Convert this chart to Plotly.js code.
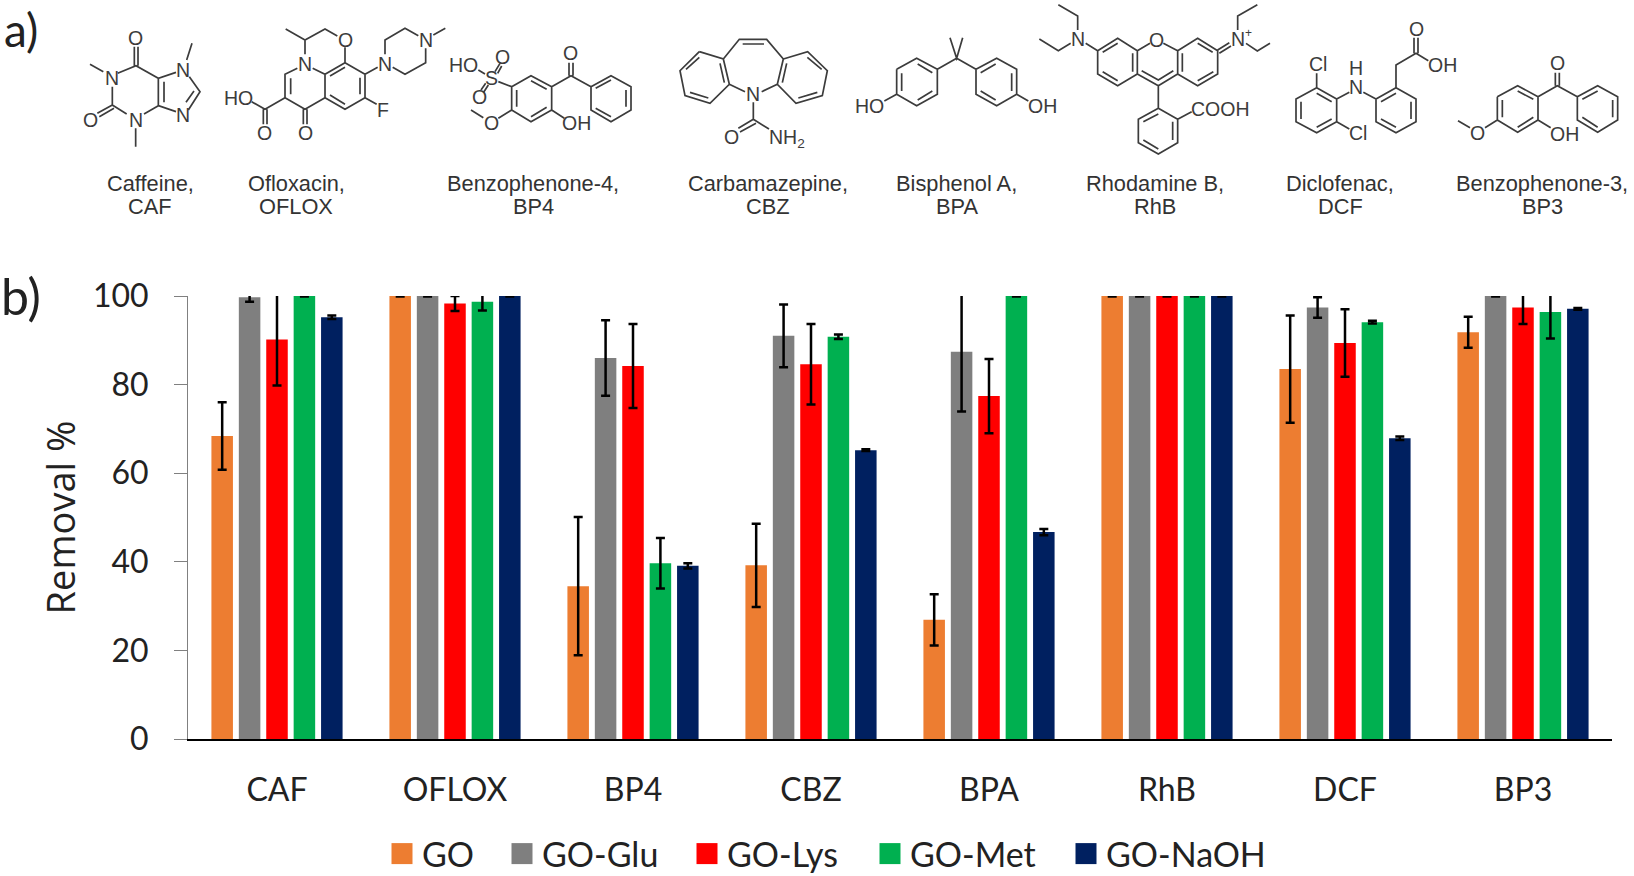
<!DOCTYPE html>
<html><head><meta charset="utf-8">
<script src="https://cdn.plot.ly/plotly-3.0.1.min.js"></script>
<style>html,body{margin:0;padding:0;background:#fff}#c{width:1634px;height:876px}</style>
</head><body><div id="c"></div>
<script>
// ---------- chart data ----------
const categories = ['CAF','OFLOX','BP4','CBZ','BPA','RhB','DCF','BP3'];
const seriesNames = ['GO','GO-Glu','GO-Lys','GO-Met','GO-NaOH'];
const seriesColors = ['#ED7D31','#7F7F7F','#FF0000','#00B050','#002060'];
const goValues   = [68.4,100,34.5,39.2,26.9,100,83.5,91.8];
const gluValues  = [99.7,100,86,91,87.4,100,97.4,100];
const lysValues  = [90.2,98.3,84.2,84.6,77.4,100,89.4,97.4];
const metValues  = [100,98.7,39.7,90.8,100,100,94.1,96.4];
const naohValues = [95.2,100,39.1,65.2,46.7,100,67.9,97.1];
const goErrors   = [7.6,0.1,15.6,9.4,5.8,0.1,12.1,3.5];
const gluErrors  = [1,0.1,8.5,7.1,13.5,0.1,2.3,0.1];
const lysErrors  = [10.4,1.7,9.5,9.1,8.4,0.1,7.6,3.7];
const metErrors  = [0.1,2,5.7,0.5,0.1,0.1,0.3,6];
const naohErrors = [0.4,0.1,0.6,0.2,0.7,0.1,0.4,0.2];
const yTicks = [0,20,40,60,80,100];
const compoundLabels = [
 ['Caffeine,','CAF',150],['Ofloxacin,','OFLOX',296],['Benzophenone-4,','BP4',533],
 ['Carbamazepine,','CBZ',768],['Bisphenol A,','BPA',957],['Rhodamine B,','RhB',1155],
 ['Diclofenac,','DCF',1340],['Benzophenone-3,','BP3',1542]];

// ---------- structural formulas: origin, bonds (polylines), atom labels; units are third-pixels ----------
const caffeine = {o:[70,15],b:[
 [[60,148],[100,170]],[[143,175],[198,152],[265,190],[318,172]],[[193,152],[193,95]],[[204,152],[204,95]],
 [[350,135],[366,85]],[[358,185],[390,230],[355,285]],[[372,228],[348,262]],[[318,290],[265,272],[265,190]],
 [[282,200],[282,262]],[[265,272],[222,297]],[[197,340],[197,395]],[[170,297],[127,270],[127,215]],
 [[127,270],[82,295]],[[132,280],[88,305]]],
 a:[['O',195,68],['N',125,190],['N',340,165],['N',340,300],['N',197,315],['O',60,315]]};
const ofloxacin = {o:[220,15],b:[
 [[197,42],[255,75],[315,42],[352,63]],[[375,97],[375,143]],[[255,75],[255,118]],
 [[232,160],[195,178],[195,248],[255,283],[315,248]],[[212,190],[212,238]],
 [[250,283],[250,328]],[[261,283],[261,328]],[[195,248],[135,283],[95,260]],[[130,283],[130,328]],[[141,283],[141,328]],
 [[278,160],[315,178],[375,143],[435,178],[435,248],[375,283],[315,248],[315,178]],
 [[330,183],[375,157]],[[420,188],[420,238]],[[375,268],[330,240]],
 [[435,178],[473,157]],[[435,248],[470,268]],
 [[495,118],[495,75],[555,40],[595,62]],[[617,100],[617,143],[555,178],[518,157]],[[640,60],[676,40]]],
 a:[['N',255,148],['O',375,75],['N',495,148],['N',617,75],['F',490,285],['HO',55,250],['O',133,355],['O',255,355]]};
const benzophenone4 = {o:[445,30],b:[
 [[200,170],[258,137],[320,170],[320,240],[258,275],[200,240],[200,170]],
 [[215,180],[215,230]],[[258,152],[305,178]],[[305,232],[258,260]],
 [[160,155],[200,170]],[[100,120],[120,132]],[[150,125],[165,100]],[[158,130],[170,108]],
 [[122,160],[108,180]],[[130,165],[115,188]],[[200,240],[160,265]],[[115,263],[78,240]],[[320,240],[358,265]],
 [[320,170],[378,137],[438,170]],[[372,137],[372,98]],[[384,137],[384,98]],
 [[438,170],[498,137],[558,170],[558,240],[498,275],[438,240],[438,170]],
 [[452,175],[498,150]],[[543,180],[543,230]],[[498,260],[452,235]]],
 a:[['HO',55,105],['S',140,145],['O',172,80],['O',102,200],['O',138,278],['OH',395,278],['O',377,70]]};
const carbamazepine = {o:[670,30],b:[
 [[88,65],[160,87],[178,163],[120,220],[45,197],[30,122],[88,65]],
 [[48,118],[88,82]],[[150,100],[163,158]],[[60,187],[115,204]],
 [[160,87],[208,28],[290,28],[340,87]],[[218,42],[282,42]],
 [[340,87],[413,65],[472,122],[457,197],[378,220],[322,163],[340,87]],
 [[412,82],[455,118]],[[350,100],[337,158]],[[442,187],[385,204]],
 [[178,163],[225,185]],[[322,163],[275,185]],[[250,217],[250,268],[205,295]],[[258,280],[210,306]],[[250,268],[297,297]]],
 a:[['N',250,192],['O',183,322],['NH<sub>2</sub>',350,325]]};
const bisphenolA = {o:[850,25],b:[
 [[140,133],[200,100],[262,133],[262,208],[200,242],[140,208],[140,133]],
 [[155,145],[155,198]],[[203,117],[247,143]],[[247,198],[203,225]],
 [[262,133],[320,100],[378,133]],[[300,38],[320,100],[338,38]],
 [[378,133],[440,100],[500,133],[500,208],[440,242],[378,208],[378,133]],
 [[392,143],[437,117]],[[485,145],[485,198]],[[392,198],[437,225]],
 [[140,208],[103,228]],[[500,208],[535,228]]],
 a:[['HO',58,243],['OH',578,243]]};
const rhodamineB = {o:[1030,0],b:[
 [[85,14],[143,48],[143,90]],[[28,117],[85,152],[122,130]],[[167,130],[203,152]],
 [[203,152],[263,115],[322,152],[322,222],[263,257],[203,222],[203,152]],
 [[308,160],[308,215]],[[263,130],[218,157]],[[218,215],[263,242]],
 [[322,152],[360,130]],[[400,130],[443,152]],[[322,222],[385,257],[443,222]],[[335,212],[385,240],[430,212]],
 [[443,152],[503,115],[563,152],[563,222],[503,257],[443,222],[443,152]],
 [[457,160],[457,215]],[[503,130],[548,157]],[[503,242],[550,215]],
 [[563,150],[598,128]],[[568,160],[603,138]],
 [[623,90],[623,48],[682,14]],[[648,130],[682,153],[720,130]],[[385,257],[385,325]],
 [[385,325],[443,358],[443,428],[385,462],[325,428],[325,358],[385,325]],
 [[385,342],[340,365]],[[428,365],[428,420]],[[340,420],[385,447]],[[443,358],[485,335]]],
 a:[['N',145,118],['N',625,118],['+',655,100],['O',380,120],['COOH',572,328]]};
const diclofenac = {o:[1280,15],b:[
 [[110,218],[170,252],[170,320],[110,353],[48,320],[48,252],[110,218]],
 [[110,235],[155,260]],[[155,312],[110,337]],[[63,260],[63,312]],
 [[110,218],[110,175]],[[170,320],[208,342]],[[170,252],[208,232]],[[250,232],[288,252]],
 [[288,252],[348,218],[408,252],[408,320],[348,353],[288,320],[288,252]],
 [[303,260],[348,235]],[[393,260],[393,312]],[[303,312],[348,337]],
 [[348,218],[348,150],[408,115],[445,137]],[[402,115],[402,68]],[[414,115],[414,68]]],
 a:[['Cl',115,148],['H',228,160],['N',228,215],['Cl',235,355],['OH',488,150],['O',408,42]]};
const benzophenone3 = {o:[1450,40],b:[
 [[142,170],[203,137],[264,170],[264,240],[203,277],[142,240],[142,170]],
 [[157,180],[157,232]],[[203,153],[250,178]],[[250,232],[203,262]],
 [[264,170],[322,137],[382,170]],[[316,137],[316,98]],[[328,137],[328,98]],
 [[382,170],[443,137],[503,170],[503,240],[443,277],[382,240],[382,170]],
 [[397,178],[443,153]],[[488,180],[488,232]],[[397,232],[443,262]],
 [[142,240],[105,263]],[[60,263],[24,242]],[[264,240],[302,263]]],
 a:[['O',322,70],['OH',342,282],['O',82,280]]};
const molecules = [caffeine,ofloxacin,benzophenone4,carbamazepine,bisphenolA,rhodamineB,diclofenac,benzophenone3];

// ---------- page geometry ----------
const W=1634,H=876,L=188,R=1612,T=296,B=739;
const fx=x=>(x-L)/(R-L), fy=y=>(B-y)/(B-T);
const shapes=[],annotations=[];
const ink='#3c3c3c';
const pageText=(text,x,y,family,size,color)=>annotations.push({xref:'paper',yref:'paper',x:fx(x),y:fy(y),text,showarrow:false,
  xanchor:'center',yanchor:'middle',borderpad:0,font:{family,size,color}});
molecules.forEach(m=>{
  const d=m.b.map(line=>line.map((p,i)=>(i?'L':'M')+fx(m.o[0]+p[0]/3).toFixed(5)+','+fy(m.o[1]+p[1]/3).toFixed(5)).join(' ')).join(' ');
  shapes.push({type:'path',xref:'paper',yref:'paper',path:d,line:{color:ink,width:1.7},layer:'above'});
  m.a.forEach(a=>pageText(a[0],m.o[0]+a[1]/3,m.o[1]+a[2]/3,'Liberation Sans',a[0]==='+'?12:19.5,ink));
});
compoundLabels.forEach(c=>{
  pageText(c[0],c[2],183.5,'Liberation Sans',21.8,'#333');
  pageText(c[1],c[2],206.5,'Liberation Sans',21.8,'#333');
});
pageText('a)',21,29,'Lato',46,'#222');
pageText('b)',21,296,'Lato',50,'#222');

// ---------- bars ----------
const vals=[goValues,gluValues,lysValues,metValues,naohValues];
const errs=[goErrors,gluErrors,lysErrors,metErrors,naohErrors];
const traces=seriesNames.map((n,i)=>({type:'bar',name:n,x:categories,y:vals[i],marker:{color:seriesColors[i]},
  error_y:{type:'data',array:errs[i],visible:true,color:'#000',thickness:2.5,width:4.5}}));

const layout={width:W,height:H,margin:{l:L,r:W-R,t:T,b:H-B,pad:0,autoexpand:false},paper_bgcolor:'#fff',plot_bgcolor:'#fff',
  barmode:'group',bargap:0.23,bargroupgap:0.215,shapes,annotations,
  font:{family:'Lato',color:'#222'},
  xaxis:{type:'category',range:[-0.5,7.5],showgrid:false,zeroline:false,showline:true,linecolor:'#000',linewidth:2,
    ticks:'',ticklabelstandoff:22,tickfont:{family:'Lato',size:32,color:'#222'},automargin:false},
  yaxis:{range:[0,100],tickvals:yTicks,showgrid:false,zeroline:false,showline:true,linecolor:'#808080',linewidth:1,
    ticks:'outside',ticklen:13,tickcolor:'#808080',tickwidth:1,ticklabelstandoff:19,
    tickfont:{family:'Lato',size:32,color:'#222'},automargin:false,
    title:{text:'Removal %',standoff:5,font:{family:'Open Sans',size:38,color:'#222'}}},
  legend:{orientation:'h',x:fx(382),xanchor:'left',y:fy(854),yanchor:'middle',entrywidth:190,entrywidthmode:'pixels',
    font:{family:'Lato',size:34,color:'#222'},itemclick:false,itemdoubleclick:false,bgcolor:'rgba(0,0,0,0)',traceorder:'normal'}
};
const legendStarts=[0,120,305,488,684];
Plotly.newPlot('c',traces,layout,{displayModeBar:false,responsive:false}).then(()=>{
  document.querySelectorAll('.legend .traces').forEach((g,i)=>{
    const m=/translate\(([-\d.]+)[ ,]*([-\d.]+)?\)/.exec(g.getAttribute('transform'));
    g.setAttribute('transform','translate('+legendStarts[i]+','+(m?m[2]||0:0)+')');
  });
  document.querySelectorAll('.legend .legendpoints path').forEach(p=>p.setAttribute('d','M10.5,10.5H-10.5V-10.5H10.5Z'));
});
</script></body></html>
